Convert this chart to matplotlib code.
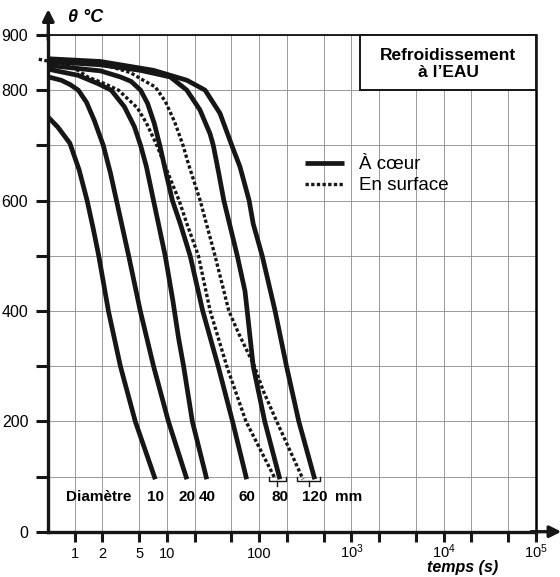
import matplotlib
matplotlib.use("Agg")
import matplotlib.pyplot as plt
from matplotlib.patches import Rectangle

plt.rcParams['font.family'] = ['Liberation Sans', 'DejaVu Sans']

t_10 = [0.52, 0.66, 0.89, 1.12, 1.37, 1.60, 1.83, 2.33, 3.14, 4.55, 7.5]
T_10 = [751, 733, 704, 656, 600, 548, 500, 400, 300, 200, 95]
t_20 = [0.52, 0.72, 0.9, 1.1, 1.35, 1.64, 2.05, 2.45, 2.85, 3.86, 5.16, 7.18, 10.4, 16.5]
T_20 = [824, 818, 810, 800, 778, 745, 700, 650, 600, 500, 400, 300, 200, 95]
t_40 = [0.52, 1.09, 1.79, 2.5, 3.47, 4.45, 5.2, 6.0, 7.18, 9.61, 11.6, 13.4, 15.2, 18.9, 27.1]
T_40 = [838, 827, 812, 800, 770, 734, 700, 662, 600, 500, 420, 351, 300, 200, 95]
t_60 = [0.52, 1.91, 3.14, 4.10, 5.2, 6.19, 7.31, 8.4, 9.8, 11.5, 14.0, 17.9, 24.5, 36.0, 51.5, 73.3]
T_60 = [845, 835, 824, 816, 800, 776, 740, 700, 650, 600, 558, 500, 400, 300, 200, 95]
t_80 = [0.52, 1.91, 5.16, 10.9, 16.5, 22.9, 29.4, 31.9, 36.5, 41.5, 58.0, 70.3, 74.3, 86.3, 115, 168]
T_80 = [852, 846, 836, 824, 800, 764, 721, 700, 650, 600, 500, 436, 400, 300, 200, 95]
t_120 = [0.52, 1.91, 7.18, 16.5, 26.0, 37.7, 50.6, 62.1, 78.0, 86.3, 108, 149, 198, 269, 401]
T_120 = [857, 852, 836, 818, 800, 758, 700, 661, 600, 558, 500, 400, 300, 200, 95]
# en surface (pointillés)
ts_80 = [0.41, 0.905, 1.39, 2.11, 3.0, 4.79, 5.99, 7.8, 10.4, 13.6, 16.5, 22.0, 29.5, 44.6, 72.0, 148]
Ts_80 = [856, 845, 824, 812, 800, 768, 741, 700, 648, 600, 558, 500, 400, 300, 200, 97]
ts_120 = [0.52, 1.91, 4.02, 5.56, 7.5, 9.61, 12.2, 15.0, 17.1, 23.0, 33.3, 47.0, 60.5, 89.0, 111, 155, 299]
Ts_120 = [857, 848, 832, 818, 806, 780, 742, 700, 667, 600, 500, 400, 358, 300, 255, 200, 95]

coeur = [(t_10, T_10), (t_20, T_20), (t_40, T_40), (t_60, T_60), (t_80, T_80), (t_120, T_120)]
surface = [(ts_80, Ts_80), (ts_120, Ts_120)]
diametres = ["10", "20", "40", "60", "80", "120"]

xticks = [1, 2, 5, 10, 20, 50, 100, 200, 500, 1e3, 2e3, 5e3, 1e4, 2e4, 5e4, 1e5]
xlabels = ["1", "2", "5", "10", "", "", "100", "", "", r"$\mathregular{10^3}$", "", "",
           r"$\mathregular{10^4}$", "", "", r"$\mathregular{10^5}$"]
yticks = list(range(0, 901, 100))
ylabels = ["0", "", "200", "", "400", "", "600", "", "800", "900"]

W, H = 560, 577
fig = plt.figure(figsize=(W / 100, H / 100), dpi=100)
ax = fig.add_axes([48.3 / W, 45.3 / H, 487.7 / W, 496.7 / H])
ax.set_xscale("log")
ax.set_xlim(0.52, 1e5)
ax.set_ylim(0, 900)

ink = "#161616"
ax.set_xticks(xticks, xlabels)
ax.minorticks_off()
ax.set_yticks(yticks, ylabels)
ax.tick_params(axis="x", direction="out", length=7.2, width=2.2, pad=11.5, labelsize=10.5, color=ink)
ax.tick_params(axis="y", direction="out", length=8.4, width=2.2, pad=6, labelsize=11.5, color=ink)
for lab in ax.get_xticklabels():
    lab.set_verticalalignment("baseline")
ax.grid(True, color="#8a8a8a", lw=0.6)
ax.set_axisbelow(True)
for s in ("left", "bottom"):
    ax.spines[s].set_linewidth(2.4)
    ax.spines[s].set_color(ink)
ax.spines["right"].set_linewidth(1.8)
ax.spines["top"].set_linewidth(1.2)

# flèches des axes
ax.annotate("", xy=(0, 1.052), xytext=(0, 0.99), xycoords="axes fraction",
            arrowprops=dict(arrowstyle="-|>", lw=2.4, color=ink, mutation_scale=17, shrinkA=0, shrinkB=0))
ax.annotate("", xy=(1.052, 0), xytext=(0.99, 0), xycoords="axes fraction",
            arrowprops=dict(arrowstyle="-|>", lw=2.4, color=ink, mutation_scale=17, shrinkA=0, shrinkB=0))

for t, T in surface:
    l_surf, = ax.plot(t, T, color=ink, lw=2.4, ls=(0, (1, 0.7)), clip_on=False, zorder=3)
for t, T in coeur:
    l_coeur, = ax.plot(t, T, color=ink, lw=3.4, solid_capstyle="butt", solid_joinstyle="round", zorder=4)

# accolades 80 / 120 mm
for (ts, Tsf), (t, T) in zip(surface, coeur[4:]):
    x1, x2 = ts[-1] / 1.15, t[-1] * 1.15
    xm = (x1 * x2) ** 0.5
    ax.plot([x1, x1, x2, x2], [99, 91, 91, 99], color=ink, lw=1.0, zorder=4)
    ax.plot([xm, xm], [91, 82], color=ink, lw=1.0, zorder=4)

# diamètres
ax.text(1.84, 63, "Diamètre", ha="center", va="center", fontsize=11, fontweight="bold")
for d, (t, T) in zip(diametres, coeur):
    ax.text(t[-1], 63, d, ha="center", va="center", fontsize=11, fontweight="bold")
ax.text(coeur[-1][0][-1] * 2.35, 63, "mm", ha="center", va="center", fontsize=11, fontweight="bold")

# cartouche
ax.add_patch(Rectangle((0.639, 0.889), 0.361, 0.111, transform=ax.transAxes,
                       facecolor="white", edgecolor=ink, lw=1.4, zorder=5, clip_on=False))
ax.text(0.820, 0.9416, "Refroidissement\nà l\u2019EAU", transform=ax.transAxes, ha="center", va="center",
        fontsize=12.5, fontweight="bold", linespacing=1.1, zorder=6)

ax.legend([l_coeur, l_surf], ["À cœur", "En surface"], loc="upper left", bbox_to_anchor=(0.526, 0.756),
          frameon=False, fontsize=13.5, handlelength=2.1, handletextpad=0.8, labelspacing=0.2,
          borderpad=0, borderaxespad=0)

fig.text(68 / W, 1 - 17 / H, "θ °C", ha="left", va="center", fontsize=13, fontweight="bold", style="italic")
fig.text(462.5 / W, 1 - 567.5 / H, "temps (s)", ha="center", va="center", fontsize=11.5,
         fontweight="bold", style="italic")

fig.savefig("out.png", dpi=100)
